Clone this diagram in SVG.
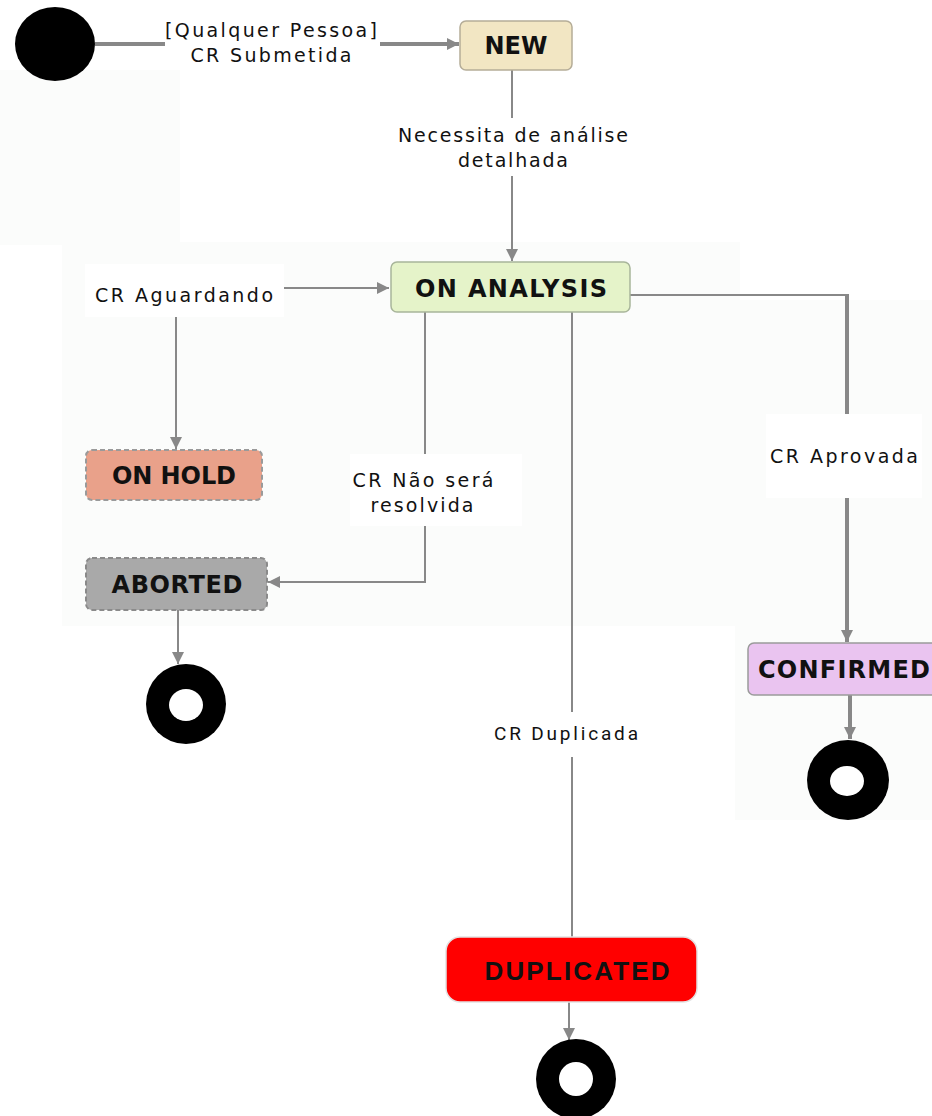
<svg xmlns="http://www.w3.org/2000/svg" width="932" height="1116" viewBox="0 0 932 1116">
<defs>
<marker id="arr" markerUnits="userSpaceOnUse" markerWidth="14" markerHeight="12" refX="12" refY="6" orient="auto-start-reverse">
<path d="M0,0 L12,6 L0,12 Z" fill="#888"/>
</marker>
<style>
.bg{fill:#fbfcfb}
.lb{fill:#ffffff}
.c{fill:none;stroke:#888;stroke-width:2}
.ct{fill:none;stroke:#888;stroke-width:4}
.el{font-family:"DejaVu Sans",Verdana,sans-serif;font-size:19px;fill:#111;text-anchor:middle}
.nl{font-family:"DejaVu Sans",Verdana,sans-serif;font-size:24px;font-weight:bold;fill:#111;text-anchor:middle}
.box{stroke-width:1.5}
.dash{stroke-dasharray:5,3;stroke-width:2}
</style>
</defs>
<rect width="932" height="1116" fill="#ffffff"/>
<rect class="bg" x="62" y="242" width="678" height="384"/>
<rect class="bg" x="735" y="300" width="197" height="520"/>
<rect class="bg" x="0" y="70" width="180" height="175"/>

<g id="connectors">
<line class="ct" x1="95" y1="44" x2="459" y2="44" marker-end="url(#arr)"/>
<line class="c" x1="512" y1="70" x2="512" y2="261" marker-end="url(#arr)"/>
<path class="c" d="M176,449 V288 H389" marker-start="url(#arr)" marker-end="url(#arr)"/>
<path class="c" d="M425,312 V582 H268" marker-end="url(#arr)"/>
<line class="c" x1="178" y1="610" x2="178" y2="664" marker-end="url(#arr)"/>
<line class="c" x1="572" y1="312" x2="572" y2="937"/>
<line class="c" x1="569" y1="1002" x2="569" y2="1040" marker-end="url(#arr)"/>
<line class="c" x1="630" y1="295" x2="848" y2="295"/>
<line class="ct" x1="847" y1="294" x2="847" y2="642" marker-end="url(#arr)"/>
<line class="ct" x1="850" y1="695" x2="850" y2="739" marker-end="url(#arr)"/>

<rect class="lb" x="165" y="17" width="215" height="51"/>
<text class="el" x="271" y="37" textLength="212" lengthAdjust="spacing">[Qualquer Pessoa]</text>
<text class="el" x="271" y="62" textLength="161" lengthAdjust="spacing">CR Submetida</text>

<rect class="lb" x="390" y="118" width="245" height="58"/>
<text class="el" x="513" y="142" textLength="230" lengthAdjust="spacing">Necessita de análise</text>
<text class="el" x="513" y="167" textLength="110" lengthAdjust="spacing">detalhada</text>

<rect class="lb" x="85" y="264" width="199" height="53"/>
<text class="el" x="184" y="302" textLength="178" lengthAdjust="spacing">CR Aguardando</text>

<rect class="lb" x="350" y="454" width="172" height="72"/>
<text class="el" x="423" y="487" textLength="141" lengthAdjust="spacing">CR Não será</text>
<text class="el" x="422" y="512" textLength="103" lengthAdjust="spacing">resolvida</text>

<rect class="lb" x="766" y="414" width="156" height="84"/>
<text class="el" x="844" y="463" textLength="148" lengthAdjust="spacing">CR Aprovada</text>

<rect class="lb" x="484" y="712" width="166" height="45"/>
<text class="el" x="566" y="740" textLength="144" lengthAdjust="spacing" style="font-family:Roboto,'Liberation Sans',sans-serif">CR Duplicada</text>
</g>

<g id="start">
<ellipse cx="55" cy="44" rx="40" ry="37" fill="#000"/>
</g>

<g id="new">
<rect class="box" x="460" y="21" width="112" height="49" rx="6" fill="#f2e6c3" stroke="#b5ad98"/>
<text class="nl" x="516" y="54" textLength="63" lengthAdjust="spacing">NEW</text>
</g>

<g id="on-analysis">
<rect class="box" x="391" y="262" width="239" height="50" rx="6" fill="#e5f3c9" stroke="#a8b59a"/>
<text class="nl" x="511" y="297" textLength="192" lengthAdjust="spacing">ON ANALYSIS</text>
</g>

<g id="on-hold">
<rect class="dash" x="86" y="450" width="176" height="50" rx="6" fill="#e9a18a" stroke="#9a9a9a"/>
<text class="nl" x="174" y="484" textLength="124" lengthAdjust="spacing">ON HOLD</text>
</g>

<g id="aborted">
<rect class="dash" x="86" y="558" width="181" height="52" rx="6" fill="#a9a9a9" stroke="#8a8a8a"/>
<text class="nl" x="177" y="593" textLength="131" lengthAdjust="spacing">ABORTED</text>
</g>

<g id="confirmed">
<rect class="box" x="748" y="643" width="200" height="52" rx="6" fill="#eac4f0" stroke="#9a9a9a"/>
<text class="nl" x="758" y="678" textLength="172" lengthAdjust="spacing" style="text-anchor:start">CONFIRMED</text>
</g>

<g id="duplicated">
<rect x="446" y="937" width="251" height="65" rx="14" fill="#ff0000" stroke="#e2e2e2" stroke-width="1.5"/>
<text x="577" y="980" textLength="185" lengthAdjust="spacing" style="font-family:'Liberation Sans',Arial,sans-serif;font-size:26px;font-weight:bold;fill:#111;text-anchor:middle">DUPLICATED</text>
</g>

<g id="end-aborted">
<ellipse cx="186" cy="704" rx="40" ry="40" fill="#000"/>
<ellipse cx="186" cy="705" rx="17" ry="16" fill="#fff"/>
</g>

<g id="end-confirmed">
<ellipse cx="848" cy="780" rx="41" ry="40" fill="#000"/>
<ellipse cx="847" cy="781" rx="17" ry="15" fill="#fff"/>
</g>

<g id="end-duplicated">
<ellipse cx="576" cy="1079" rx="40" ry="40" fill="#000"/>
<ellipse cx="576" cy="1079" rx="17" ry="17" fill="#fff"/>
</g>
</svg>
